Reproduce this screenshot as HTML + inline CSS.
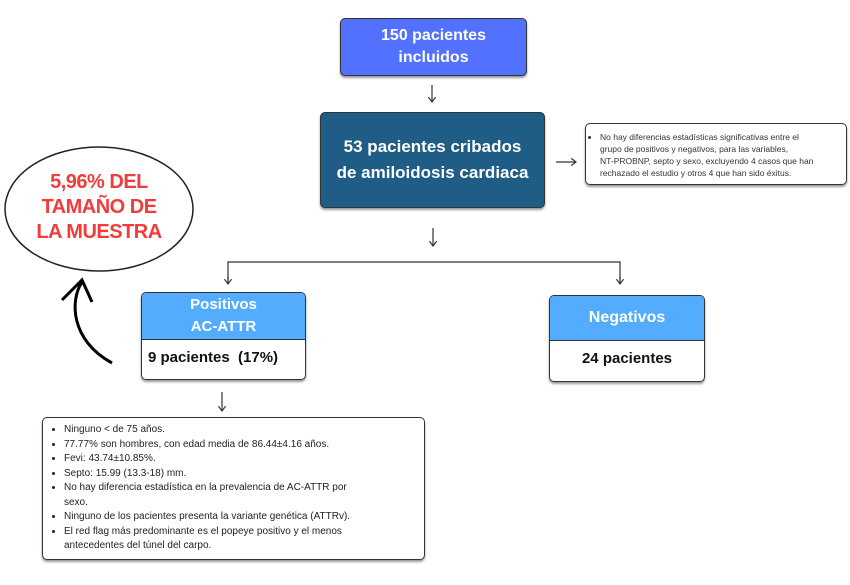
<!DOCTYPE html>
<html><head><style>
body{margin:0;width:850px;height:585px;background:#fff;position:relative;font-family:"Liberation Sans",sans-serif;overflow:hidden}
.b{position:absolute;box-sizing:border-box;border:1.5px solid #333;border-radius:5px;box-shadow:0 2px 2px #999}
.c{display:flex;align-items:center;justify-content:center;text-align:center;color:#fff;font-weight:bold}
ul{margin:0;padding-left:16px;white-space:nowrap}
</style></head><body>
<svg width="850" height="585" style="position:absolute;left:0;top:0">
<defs><marker id="a" markerWidth="8" markerHeight="8" refX="4" refY="4" orient="auto"><path d="M0,1 L4,4 L0,7" fill="none" stroke="#333" stroke-width="1"/></marker></defs>
<g stroke="#333" stroke-width="1.2" fill="none">
<line x1="432" y1="85" x2="432" y2="102" marker-end="url(#a)"/>
<line x1="433" y1="228" x2="433" y2="246" marker-end="url(#a)"/>
<line x1="556" y1="162" x2="576" y2="162" marker-end="url(#a)"/>
<polyline points="228,282 228,262 620,262 620,282"/>
<line x1="228" y1="276" x2="228" y2="284" marker-end="url(#a)"/>
<line x1="620" y1="276" x2="620" y2="284" marker-end="url(#a)"/>
<line x1="222" y1="392" x2="222" y2="411" marker-end="url(#a)"/>
</g>
<ellipse cx="99" cy="209" rx="94" ry="62" fill="none" stroke="#222" stroke-width="1.5"/>
<path d="M112,363 C70,340 70,300 82,282" stroke="#000" stroke-width="3" fill="none"/>
<path d="M62,300 L82,280 L92,302" stroke="#000" stroke-width="3" fill="none"/>
</svg>
<div style="position:absolute;left:10px;top:170px;width:178px;text-align:center;color:#f23b3b;font-weight:bold;font-size:20px;line-height:25px;letter-spacing:-0.5px">5,96% DEL<br>TAMAÑO DE<br>LA MUESTRA</div>
<div class="b c" style="left:340px;top:18px;width:187px;height:58px;background:#5271ff;font-size:16px;line-height:22px">150 pacientes<br>incluidos</div>
<div class="b c" style="left:320px;top:112px;width:225px;height:96px;background:#1f5d86;font-size:17px;line-height:26px">53 pacientes cribados<br>de amiloidosis cardiaca</div>
<div class="b" style="left:585px;top:123px;width:262px;height:62px;font-size:8.5px;line-height:12px;color:#333;padding:7px 4px 0 0;border-width:1px"><ul style="padding-left:14px"><li>No hay diferencias estadísticas significativas entre el<br>grupo de positivos y negativos, para las variables,<br>NT-PROBNP, septo y sexo, excluyendo 4 casos que han<br>rechazado el estudio y otros 4 que han sido éxitus.</li></ul></div>
<div class="b" style="left:141px;top:292px;width:165px;height:88px;overflow:hidden">
<div class="c" style="height:46px;background:#54acff;border-bottom:1.5px solid #333;font-size:15px;line-height:22px">Positivos<br>AC-ATTR</div>
<div style="padding-top:9px;padding-left:6px;font-weight:bold;font-size:15px;color:#111">9 pacientes &nbsp;(17%)</div></div>
<div class="b" style="left:549px;top:295px;width:156px;height:87px;overflow:hidden">
<div class="c" style="height:44px;background:#54acff;border-bottom:1.5px solid #333;font-size:16px">Negativos</div>
<div style="padding-top:9px;text-align:center;font-weight:bold;font-size:15px;color:#111">24 pacientes</div></div>
<div class="b" style="left:42px;top:417px;width:383px;height:143px;font-size:10px;line-height:14.5px;color:#222;padding:5px 8px 0 6px;border-width:1px">
<ul style="padding-left:15px"><li>Ninguno &lt; de 75 años.</li><li>77.77% son hombres, con edad media de 86.44±4.16 años.</li><li>Fevi: 43.74±10.85%.</li><li>Septo: 15.99 (13.3-18) mm.</li><li>No hay diferencia estadística en la prevalencia de AC-ATTR por<br>sexo.</li><li>Ninguno de los pacientes presenta la variante genética (ATTRv).</li><li>El red flag más predominante es el popeye positivo y el menos<br>antecedentes del túnel del carpo.</li></ul></div>
</body></html>
